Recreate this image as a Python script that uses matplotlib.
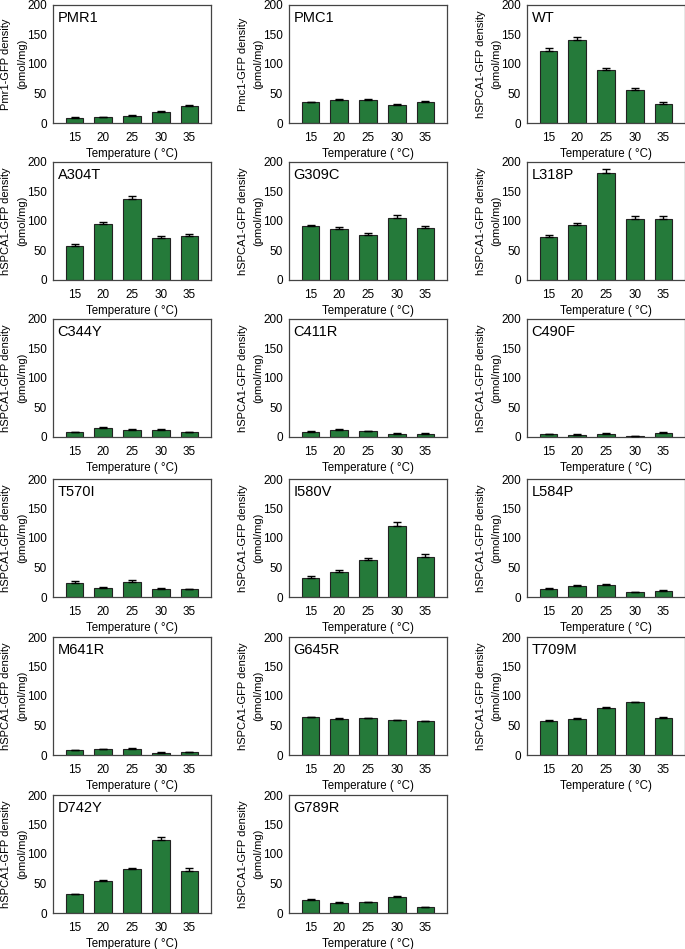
import matplotlib
matplotlib.use("Agg")
import matplotlib.pyplot as plt
import numpy as np

plt.rcParams['font.family'] = ['Liberation Sans', 'DejaVu Sans']

# data (pmol/mg)
temps = [15, 20, 25, 30, 35]
names = ["PMR1", "PMC1", "WT", "A304T", "G309C", "L318P", "C344Y", "C411R", "C490F",
         "T570I", "I580V", "L584P", "M641R", "G645R", "T709M", "D742Y", "G789R"]
ylab_top = ["Pmr1-GFP density", "Pmc1-GFP density"] + ["hSPCA1-GFP density"] * 15
ylab_unit = "(pmol/mg)"
means = [
    [8.5, 10, 12.5, 18, 29.5],      # PMR1
    [35, 39, 39, 30, 35.5],         # PMC1
    [122, 140, 90, 56, 32.5],       # WT
    [58, 95, 137, 72, 74],          # A304T
    [91, 87, 77, 105, 88],          # G309C
    [73, 93, 181, 103, 103],        # L318P
    [8, 15.5, 12, 12, 8],           # C344Y
    [9, 12, 9.5, 5.5, 5.5],         # C411R
    [4.5, 4, 5, 2, 7],              # C490F
    [24, 16, 25.5, 14, 13],         # T570I
    [32.5, 42.5, 63, 120, 68],      # I580V
    [13.5, 18.5, 21, 8, 11],        # L584P
    [8, 9.5, 11, 4, 5],             # M641R
    [64, 61, 62, 59, 57],           # G645R
    [58, 61.5, 80.5, 89, 63],       # T709M
    [32, 54.5, 74, 123, 71],        # D742Y
    [22.5, 17, 18, 27.5, 10.5],     # G789R
]
errs = [
    [1, 1, 1, 1.5, 1.5],
    [1, 1.5, 1.5, 1.5, 1.5],
    [5, 5.5, 4, 3, 3.5],
    [2.5, 4, 6, 3, 3.5],
    [3, 2.5, 3, 4.5, 3],
    [4, 3.5, 6.5, 6, 5],
    [1, 1, 1, 1, 1],
    [1, 1, 1, 1, 1],
    [1, 1, 1, 0.5, 1],
    [3, 1, 2.5, 1, 1],
    [3, 3, 3.5, 7, 4.5],
    [1, 1, 1.5, 0.5, 1],
    [1, 1, 1, 0.5, 0.5],
    [1, 1, 1, 1, 1],
    [1.5, 1.5, 1.5, 1.5, 1],
    [1, 1, 1.5, 5, 4.5],
    [1, 1, 1, 1, 0.5],
]

W, H = 685, 949
fig = plt.figure(figsize=(W / 100, H / 100), dpi=100)

col_left = [53, 289, 527]          # px
row_bottom = [123, 280, 437, 597, 755, 913]  # px from top
ax_w, ax_h = 158, 118
green = "#257a3a"

x = np.arange(len(temps))
for i, name in enumerate(names):
    r, c = divmod(i, 3)
    ax = fig.add_axes([col_left[c] / W, 1 - row_bottom[r] / H, ax_w / W, ax_h / H])
    m = np.array(means[i])
    e = np.array(errs[i])
    ax.bar(x, m, width=0.62, color=green, edgecolor="#222222", linewidth=0.8, zorder=2)
    ax.errorbar(x, m, yerr=[np.zeros_like(e), e], fmt="none", ecolor="black",
                elinewidth=1.0, capsize=3.2, capthick=1.0, zorder=3)
    ax.set_ylim(0, 200)
    ax.set_xlim(-0.75, 4.75)
    ax.set_yticks([0, 50, 100, 150, 200])
    ax.set_xticks(x)
    ax.set_xticklabels([str(t) for t in temps])
    ax.tick_params(axis="y", length=0, labelsize=8.5, pad=4.3)
    ax.tick_params(axis="x", length=0, labelsize=8.5, pad=6.8)
    for s in ax.spines.values():
        s.set_color("#444444")
        s.set_linewidth(0.9)
    ax.text(0.03, 0.95, name, transform=ax.transAxes, ha="left", va="top", fontsize=10.5)
    # two-line y label, placed line by line
    ax.text(-46.5 / ax_w, 0.5, ylab_top[i], transform=ax.transAxes, rotation=90,
            ha="center", va="center", fontsize=8)
    ax.text(-30.5 / ax_w, 0.5, ylab_unit, transform=ax.transAxes, rotation=90,
            ha="center", va="center", fontsize=8)
    ax.set_xlabel("Temperature ( \u00b0C)", fontsize=8.3, labelpad=2.5)

fig.savefig("out.png", dpi=100)
